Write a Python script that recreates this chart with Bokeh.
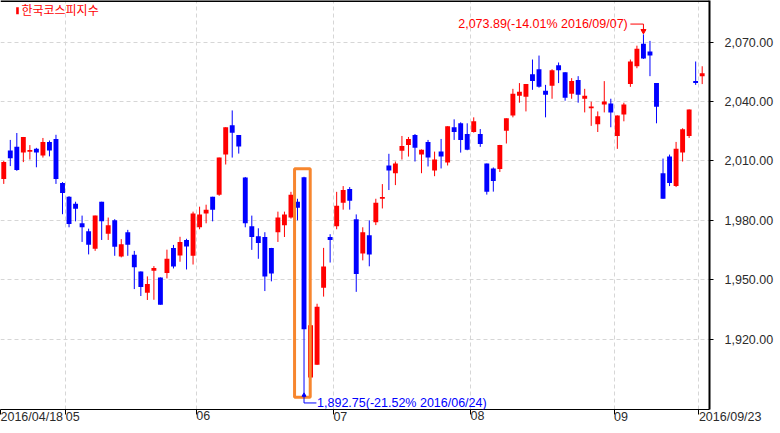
from bokeh.plotting import figure
from bokeh.models import (Range1d, FixedTicker, NumeralTickFormatter, Label,
                          BoxAnnotation, Span, ColumnDataSource)
from bokeh.embed import file_html
from bokeh.resources import INLINE

# ---- data (KOSPI daily candles 2016/04/18 - 2016/09/23) ----
open_ = [2000.9, 2015.3, 2017.1, 2014.3, 2014.8, 2016.1, 2012.8, 2019.6, 2021.1, 1998.8,
         1991.9, 1988.4, 1978.5, 1974.5, 1965.6, 1989.4, 1973.2, 1980.0, 1961.8, 1974.0,
         1962.6, 1954.2, 1943.5, 1954.6, 1951.2, 1953.4, 1966.1, 1962.3, 1970.1, 1962.1,
         1976.5, 1983.4, 1991.9, 1992.9, 2013.2, 2028.0, 2023.1, 2001.6, 1977.0, 1972.0,
         1971.6, 1966.1, 1974.0, 1977.5, 1981.4, 1989.4, 2001.8, 1900.7, 1907.1, 1946.0,
         1971.6, 1977.0, 1988.9, 1995.8, 1980.5, 1963.3, 1972.5, 1979.1, 1991.0, 2007.7,
         2003.8, 2015.1, 2018.1, 2023.1, 2013.2, 2019.6, 2005.2, 2014.7, 2009.2, 2027.0,
         2029.0, 2023.6, 2024.6, 2023.6, 2008.7, 2006.2, 2005.9, 2025.2, 2033.0, 2042.9,
         2042.4, 2053.8, 2056.3, 2045.4, 2047.9, 2058.3, 2054.8, 2043.9, 2050.8, 2041.4,
         2036.6, 2028.5, 2038.5, 2039.0, 2022.6, 2033.5, 2048.8, 2057.8, 2069.2, 2065.2,
         2049.3, 2003.8, 2012.2, 1997.3, 2014.2, 2022.6, 2050.3, 2052.8]
high = [2010.0, 2020.6, 2024.1, 2022.1, 2018.0, 2016.6, 2021.6, 2020.3, 2023.2, 1999.3,
        1992.2, 1989.4, 1982.4, 1975.8, 1982.4, 1989.4, 1981.4, 1980.6, 1970.5, 1975.2,
        1964.6, 1954.2, 1951.7, 1956.9, 1951.2, 1965.2, 1967.6, 1971.7, 1970.7, 1984.4,
        1986.9, 1987.9, 1991.9, 2011.7, 2027.0, 2035.5, 2023.1, 2001.9, 1982.4, 1976.0,
        1974.0, 1966.1, 1984.4, 1984.4, 1994.4, 1990.9, 2002.0, 1927.0, 1937.9, 1966.1,
        1973.0, 1994.4, 1997.3, 1996.8, 1983.0, 1976.5, 1980.0, 1990.9, 1998.3, 2013.6,
        2009.7, 2022.6, 2022.1, 2023.6, 2015.8, 2020.6, 2014.7, 2021.1, 2027.5, 2031.0,
        2029.5, 2029.0, 2032.0, 2026.1, 2008.7, 2006.7, 2018.1, 2031.5, 2046.4, 2049.3,
        2048.8, 2061.2, 2063.2, 2048.4, 2056.3, 2059.7, 2054.8, 2051.8, 2052.8, 2046.4,
        2039.9, 2035.0, 2050.3, 2041.4, 2033.0, 2039.4, 2061.2, 2068.2, 2073.89, 2070.6,
        2049.3, 2011.2, 2013.2, 2019.6, 2026.5, 2036.0, 2060.2, 2057.8]
low = [1998.4, 2007.4, 2005.0, 2009.4, 2010.7, 2006.8, 2011.7, 2012.3, 1998.4, 1983.1,
       1976.5, 1979.5, 1969.1, 1962.8, 1964.6, 1970.1, 1970.1, 1962.1, 1961.3, 1962.1,
       1945.3, 1941.8, 1939.8, 1939.9, 1937.4, 1950.7, 1955.7, 1959.1, 1955.2, 1957.7,
       1975.5, 1978.5, 1979.5, 1992.4, 2008.2, 2011.7, 2013.7, 1976.5, 1965.1, 1960.6,
       1944.3, 1949.2, 1969.1, 1971.6, 1980.9, 1980.0, 1892.75, 1900.2, 1907.0, 1941.5,
       1958.7, 1975.5, 1985.4, 1985.4, 1943.9, 1959.8, 1956.8, 1977.6, 1986.0, 1995.3,
       1997.8, 2010.7, 2012.2, 2009.7, 2003.8, 2007.2, 2002.3, 2006.2, 2007.7, 2020.6,
       2014.2, 2015.4, 2024.3, 2017.1, 1993.0, 1994.5, 2004.4, 2018.8, 2032.0, 2039.4,
       2035.0, 2045.9, 2047.0, 2032.0, 2041.4, 2049.3, 2040.4, 2041.4, 2039.4, 2034.5,
       2027.7, 2024.6, 2034.5, 2027.0, 2016.1, 2030.0, 2047.4, 2056.8, 2061.5, 2052.8,
       2029.0, 1990.9, 1997.3, 1996.8, 2009.7, 2021.6, 2048.4, 2048.8]
close = [2009.5, 2011.3, 2005.4, 2022.1, 2015.4, 2014.3, 2019.6, 2015.3, 2000.9, 1993.8,
         1978.1, 1985.9, 1976.5, 1967.7, 1982.4, 1979.6, 1977.5, 1966.7, 1967.9, 1967.7,
         1956.3, 1946.4, 1947.9, 1955.9, 1937.4, 1960.6, 1956.7, 1969.1, 1966.8, 1983.4,
         1982.9, 1985.4, 1985.4, 2011.7, 2027.0, 2024.2, 2017.3, 1978.5, 1971.6, 1968.6,
         1951.7, 1953.2, 1981.4, 1983.0, 1992.9, 1986.4, 1925.0, 1927.0, 1936.4, 1956.7,
         1970.1, 1987.4, 1995.3, 1989.9, 1952.9, 1974.0, 1962.8, 1988.9, 1991.7, 2005.2,
         2008.7, 2017.6, 2021.1, 2016.6, 2015.6, 2011.7, 2010.7, 2012.2, 2027.5, 2024.6,
         2020.6, 2015.6, 2030.0, 2018.6, 1994.5, 1999.9, 2018.1, 2031.5, 2043.9, 2044.9,
         2048.8, 2050.3, 2047.4, 2043.4, 2055.8, 2055.8, 2041.9, 2050.3, 2043.4, 2042.9,
         2037.4, 2032.5, 2040.0, 2034.5, 2033.0, 2038.5, 2060.2, 2066.7, 2061.7, 2063.2,
         2037.4, 1990.9, 1998.8, 2016.1, 2026.0, 2036.0, 2049.3, 2054.3]

xtick_idx = [0, 10, 30, 51, 72, 94, 107]
xtick_labels = ["2016/04/18", "05", "06", "07", "08", "09", "2016/09/23"]
ytick_values = [1920, 1950, 1980, 2010, 2040, 2070]

title_text = "한국코스피지수"
max_idx, max_val, max_text = 98, 2073.89, "2,073.89(-14.01% 2016/09/07)"
min_idx, min_val, min_text = 46, 1892.75, "1,892.75(-21.52% 2016/06/24)"
box_first, box_last = 45, 46

UP, DOWN = "#ff0000", "#0000ff"
ORANGE = "#f7862e"
FONT = "Liberation Sans"
FSIZE = "12.5px"
TICK_TXT = "#2b2b2b"

n = len(open_)
xs = [i + 0.5 for i in range(n)]
colors = [UP if c >= o else DOWN for o, c in zip(open_, close)]
tops, bots = [], []
for o, c in zip(open_, close):
    t, b = max(o, c), min(o, c)
    if t - b < 0.9:
        m = (t + b) / 2
        t, b = m + 0.45, m - 0.45
    tops.append(t)
    bots.append(b)

src = ColumnDataSource(dict(x=xs, high=high, low=low, top=tops, bottom=bots, color=colors))

p = figure(width=780, height=433, output_backend="svg", toolbar_location=None,
           x_range=Range1d(0, n + 0.62), y_range=Range1d(1884.5, 2091.0),
           x_axis_location="below", y_axis_location="right",
           min_border_left=0, min_border_top=0, min_border_right=71, min_border_bottom=0,
           outline_line_color=None, background_fill_color="white", border_fill_color="white")

# grid
for g in (p.xgrid, p.ygrid):
    g.grid_line_color = "#d6d6d6"
    g.grid_line_dash = "4 3"
    g.grid_line_width = 1

# x axis: labels left-aligned just right of each tick (tiny negative orientation)
p.xaxis.ticker = FixedTicker(ticks=xtick_idx)
p.xaxis.major_label_overrides = {i: lab for i, lab in zip(xtick_idx, xtick_labels)}
p.xaxis.major_label_orientation = -1e-6
p.xaxis.major_tick_out = 5
p.xaxis.major_tick_in = 0
p.xaxis.minor_tick_line_color = None
p.xaxis.major_tick_line_color = "black"
p.xaxis.axis_line_color = "black"
p.xaxis.axis_line_width = 1
p.xaxis.major_label_standoff = 2
p.xaxis.major_label_text_font = FONT
p.xaxis.major_label_text_font_size = FSIZE
p.xaxis.major_label_text_color = TICK_TXT

# y axis
p.yaxis.ticker = FixedTicker(ticks=ytick_values)
p.yaxis.formatter = NumeralTickFormatter(format="0,0.00")
p.yaxis.major_tick_out = 4
p.yaxis.major_tick_in = 0
p.yaxis.minor_tick_line_color = None
p.yaxis.major_tick_line_color = "black"
p.yaxis.axis_line_color = "black"
p.yaxis.axis_line_width = 2
p.yaxis.major_label_standoff = 11
p.yaxis.major_label_text_font = FONT
p.yaxis.major_label_text_font_size = FSIZE
p.yaxis.major_label_text_color = TICK_TXT

# top border
p.add_layout(Span(location=2091.0, dimension="width", line_color="black", line_width=3))

# candles
p.segment(x0="x", y0="low", x1="x", y1="high", line_color="color", line_width=1, source=src)
p.vbar(x="x", top="top", bottom="bottom", width=0.75, fill_color="color", line_color=None, source=src)

# highlight box
p.quad(left=box_first + 0.05, right=box_last + 1.45, top=2006.0, bottom=1890.7,
       fill_color=None, line_color=ORANGE, line_width=3)

# max annotation
mx = max_idx + 0.5
p.line(x=[mx - 2.0, mx, mx], y=[2079.1, 2079.1, 2075.6], line_color=UP, line_width=1)
p.scatter(x=[mx], y=[2075.6], marker="inverted_triangle", size=5, color=UP)
p.add_layout(Label(x=mx - 2.4, y=2079.1, text=max_text, text_align="right",
                   text_baseline="middle", text_color=UP, text_font=FONT,
                   text_font_size=FSIZE))

# min annotation
mn = min_idx + 0.5
p.line(x=[mn, mn, mn + 1.9], y=[min_val - 1.2, 1887.8, 1887.8], line_color=DOWN, line_width=1)
p.scatter(x=[mn], y=[min_val - 1.0], marker="triangle", size=4, color=DOWN)
p.add_layout(Label(x=mn + 2.0, y=1887.8, text=min_text, text_align="left",
                   text_baseline="middle", text_color=DOWN, text_font=FONT,
                   text_font_size=FSIZE))

# title with marker
p.add_layout(BoxAnnotation(left=2.4, right=2.8, top=2087.6, bottom=2084.0,
                           fill_color=UP, fill_alpha=1.0, line_color=None))
p.add_layout(Label(x=3.2, y=2086.3, text=title_text, text_align="left",
                   text_baseline="middle", text_color=UP,
                   text_font="Noto Sans CJK KR", text_font_size="12px"))

open("out.html", "w").write(file_html(p, INLINE))
